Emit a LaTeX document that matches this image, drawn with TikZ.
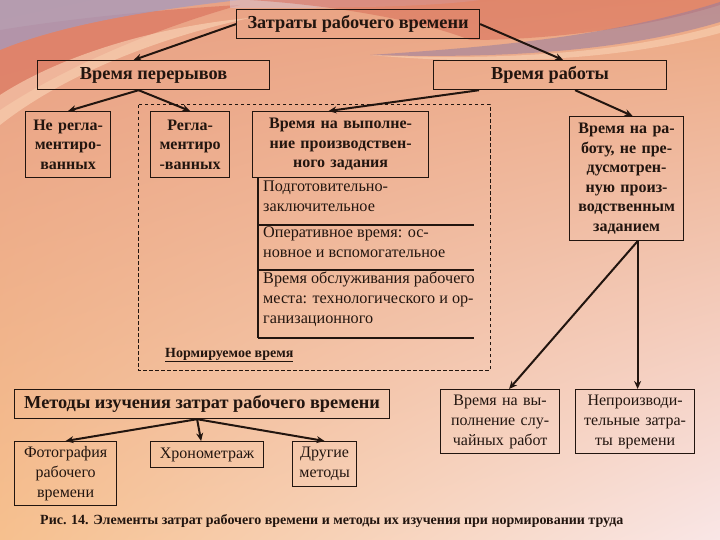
\documentclass[tikz,border=0pt]{standalone}
\usepackage{fontspec}
\setmainfont{Liberation Serif}
\usetikzlibrary{arrows.meta,calc,shadings}
\definecolor{ink}{HTML}{22150F}
\definecolor{bgul}{RGB}{232,160,134}
\definecolor{bgur}{RGB}{236,168,130}
\definecolor{bgll}{RGB}{246,192,142}
\definecolor{bglr}{RGB}{249,230,230}
\definecolor{swpurple}{RGB}{165,155,190}
\definecolor{swlight}{RGB}{250,215,185}
\definecolor{swpurple2}{RGB}{150,125,160}
\definecolor{swred}{RGB}{215,105,85}
\definecolor{swlav}{RGB}{215,190,200}
\tikzset{
  box/.style={draw=ink,line width=1.2pt,anchor=north west,inner sep=0pt,align=center,text=ink,
    font=\fontsize{16}{20}\selectfont},
  bbox/.style={box,font=\fontsize{16}{19.5}\selectfont\bfseries},
  hbox/.style={box,font=\fontsize{18.3}{20}\selectfont\bfseries},
  stacktxt/.style={anchor=north west,inner sep=0pt,align=left,text=ink,font=\fontsize{16.2}{20}\selectfont},
  arr/.style={draw=ink,line width=2pt,-{Stealth[length=8pt,width=7pt]}},
  sline/.style={draw=ink,line width=2.6pt},
}
\begin{document}
\begin{tikzpicture}[x=1pt,y=-1pt]
\useasboundingbox (0,0) rectangle (720,540);
% background
\shade[upper left=bgul,upper right=bgur,lower left=bgll,lower right=bglr]
  (0,0) rectangle (720,540);
% top-left swooshes
\fill[swred,opacity=0.55] (0,30) .. controls (60,20) and (150,10) .. (240,5) .. controls (150,30) and (60,70) .. (0,110) -- cycle;
\fill[swpurple,opacity=0.75] (0,0) -- (240,0) .. controls (150,10) and (60,25) .. (0,50) -- cycle;
\fill[swlight,opacity=0.6] (0,95) .. controls (70,50) and (170,25) .. (250,18) .. controls (170,35) and (70,70) .. (0,125) -- cycle;
\fill[swlav,opacity=0.6] (230,0) -- (480,0) .. controls (420,8) and (320,8) .. (230,8) -- cycle;
% top-right swooshes
\fill[swred,opacity=0.5] (250,0) -- (720,0) -- (720,5) .. controls (640,30) and (540,40) .. (470,40) .. controls (420,20) and (330,5) .. (250,0) -- cycle;
\fill[swpurple2,opacity=0.55] (370,55) .. controls (470,48) and (600,40) .. (720,2) -- (720,22) .. controls (610,55) and (480,58) .. (370,55) -- cycle;
\fill[swlight,opacity=0.55] (370,55) .. controls (480,60) and (610,57) .. (720,25) -- (720,33) .. controls (610,63) and (480,65) .. (370,55) -- cycle;

% dashed region
\draw[ink,line width=1pt,dash pattern=on 3.5pt off 2.5pt] (138,105) rectangle (490,370);

% nodes
\node[hbox,minimum width=243,minimum height=29] (top) at (236,9) {Затраты рабочего времени};
\node[hbox,minimum width=232,minimum height=29] (brk) at (37,60) {Время перерывов};
\node[hbox,minimum width=233,minimum height=29] (wrk) at (433,60) {Время работы};
\node[bbox,minimum width=85,minimum height=66,text width=85] (nreg) at (25,111) {Не регла-\\ментиро-\\ванных};
\node[bbox,minimum width=79,minimum height=66,text width=79] (reg) at (150,111) {Регла-\\ментиро\\-ванных};
\node[bbox,minimum width=176,minimum height=66,text width=176] (task) at (252,111) {Время на выполне-\\ние производствен-\\ного задания};
\node[bbox,minimum width=114,minimum height=124,text width=114] (extra) at (569,116) {Время на ра-\\боту, не пре-\\дусмотрен-\\ную произ-\\водственным\\заданием};

\node[stacktxt] (s1) at (263,181) {Подготовительно-\\заключительное};
\node[stacktxt] (s2) at (263,227) {Оперативное время: ос-\\новное и вспомогательное};
\node[stacktxt] (s3) at (263,272) {Время обслуживания рабочего\\места: технологического и ор-\\ганизационного};
\coordinate (vb) at (258,338);
\draw[sline] (task.south -| vb) -- (vb);
\draw[sline] (258,225) -- (474,225);
\draw[sline] (258,270) -- (474,270);
\draw[sline] (vb) -- (474,338);

\node[anchor=west,inner sep=0pt,text=ink,font=\fontsize{14}{15}\selectfont\bfseries] (norm) at (165,355) {\underline{Нормируемое время}};

\node[hbox,minimum width=375,minimum height=29] (meth) at (14,389) {Методы изучения затрат рабочего времени};
\node[box,minimum width=102,minimum height=64,text width=102] (photo) at (14,441) {Фотография\\рабочего\\времени};
\node[box,minimum width=113,minimum height=26] (chrono) at (150,441) {Хронометраж};
\node[box,minimum width=64,minimum height=45,text width=64] (other) at (292,441) {Другие\\методы};
\node[box,minimum width=119,minimum height=64,text width=119] (rand) at (440,389) {Время на вы-\\полнение слу-\\чайных работ};
\node[box,minimum width=119,minimum height=64,text width=119] (unprod) at (575,389) {Непроизводи-\\тельные затра-\\ты времени};

\node[anchor=west,inner sep=0pt,text=ink,font=\fontsize{14}{15}\selectfont\bfseries] (cap) at (40,521) {Рис. 14. Элементы затрат рабочего времени и методы их изучения при нормировании труда};

% connectors
\coordinate (es) at ([xshift=11]extra.south);
\draw[arr] (top.west) -- ([xshift=-20]brk.north);
\draw[arr] (top.east) -- ([xshift=13]wrk.north);
\draw[arr] ([xshift=-15]brk.south) -- (nreg.north);
\draw[arr] ([xshift=-15]brk.south) -- (reg.north);
\draw[arr] ([xshift=-71]wrk.south) -- ([xshift=-12]task.north);
\draw[arr] ([xshift=25]wrk.south) -- ([xshift=6]extra.north);
\draw[arr] (es) -- ([xshift=9]rand.north);
\draw[arr] (es) -- (es |- unprod.north);
\draw[arr] ([xshift=-5]meth.south) -- (photo.north);
\draw[arr] ([xshift=-5]meth.south) -- ([xshift=-6]chrono.north);
\draw[arr] ([xshift=-5]meth.south) -- (other.north);
\end{tikzpicture}
\end{document}
